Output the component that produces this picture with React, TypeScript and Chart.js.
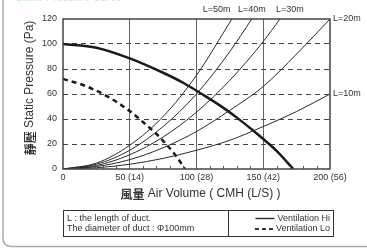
import { useEffect, useRef } from "react";
import { Chart, registerables } from "chart.js";
Chart.register(...registerables);

// ---- data ----
const xTickValues = [0, 50, 100, 150, 200];
const xTickLabels = ["0", "50 (14)", "100 (28)", "150 (42)", "200 (56)"];
const yTickValues = [0, 20, 40, 60, 80, 100, 120];

const hiX = [0, 25, 50, 75, 90, 104, 118, 131, 141, 150, 160, 172.5];
const hiY = [100, 97, 88.5, 77, 69, 60, 50.5, 40.5, 32, 24, 14.5, 0];

const loX = [0, 15, 32.5, 48.8, 60, 70, 77.5, 85, 91.3];
const loY = [72, 67.2, 58.5, 47.3, 37.5, 28, 19.6, 10, 0];

const duct10X = [0, 25, 50, 75, 100, 125, 150, 175, 200];
const duct10Y = [0, 1, 3.8, 8.5, 15, 23, 34, 46, 60];
const duct20X = [0, 25, 50, 75, 100, 125, 150, 175, 200];
const duct20Y = [0, 2, 7.5, 17, 30, 47, 66, 92, 120];
const duct30X = [0, 25, 50, 75, 100, 125, 150, 162.5];
const duct30Y = [0, 2.8, 11.4, 25.6, 45.5, 71, 102, 120];
const duct40X = [0, 25, 50, 75, 100, 125, 141.4];
const duct40Y = [0, 3.8, 15, 34, 60, 94, 120];
const duct50X = [0, 25, 50, 75, 100, 126.5];
const duct50Y = [0, 4.7, 19, 42, 75, 120];

// curve labels: text with anchor in data coordinates
const topLabels = ["L=50m", "L=40m", "L=30m"];
const topLabelX = [115, 141.5, 170];
const sideLabels = ["L=20m", "L=10m"];
const sideLabelY = [120, 60];

const yTitleCJK = "靜壓";
const yTitleLatin = " Static Pressure (Pa)";
const xTitleCJK = "風量";
const xTitleLatin = " Air Volume ( CMH (L/S) )";
const legendLeft = ["L : the length of duct.", "The diameter of duct : \u03A6100mm"];
const legendRight = ["Ventilation Hi", "Ventilation Lo"];

const zip = (xs: number[], ys: number[]) => xs.map((x, i) => ({ x, y: ys[i] }));

const FONT = "'Liberation Sans', Arial, sans-serif";
const CJK = "'Noto Sans CJK TC', 'Noto Sans CJK SC', sans-serif";

const drawMixed = (ctx: CanvasRenderingContext2D, cjk: string, latin: string, cx: number, cy: number) => {
  ctx.textBaseline = "middle";
  ctx.font = `bold 12px ${CJK}`;
  const w1 = ctx.measureText(cjk).width;
  ctx.font = `12px ${FONT}`;
  const w2 = ctx.measureText(latin).width;
  const sx = cx - (w1 + w2) / 2;
  ctx.textAlign = "left";
  ctx.font = `bold 12px ${CJK}`;
  ctx.fillText(cjk, sx, cy + 0.5);
  ctx.font = `12px ${FONT}`;
  ctx.fillText(latin, sx + w1, cy);
};

const customPlugin = {
  id: "customDecor",
  afterDraw(chart: any) {
    const { ctx, chartArea: a, scales } = chart;
    const xs = scales.x;
    const ys = scales.y;
    ctx.save();
    ctx.setLineDash([]);
    // plot frame
    ctx.strokeStyle = "#444";
    ctx.lineWidth = 1.5;
    ctx.strokeRect(a.left, a.top, a.right - a.left, a.bottom - a.top);
    // minor ticks on x axis
    ctx.lineWidth = 1;
    ctx.strokeStyle = "#555";
    for (let v = 10; v < 200; v += 10) {
      if (v % 50 === 0) continue;
      const px = Math.round(xs.getPixelForValue(v)) + 0.5;
      ctx.beginPath();
      ctx.moveTo(px, a.bottom);
      ctx.lineTo(px, a.bottom - 3);
      ctx.stroke();
    }
    // curve labels
    ctx.fillStyle = "#333";
    ctx.font = `9px ${FONT}`;
    ctx.textBaseline = "middle";
    ctx.textAlign = "center";
    topLabels.forEach((t, i) => ctx.fillText(t, xs.getPixelForValue(topLabelX[i]), a.top - 9));
    ctx.textAlign = "left";
    sideLabels.forEach((t, i) => ctx.fillText(t, a.right + 3, ys.getPixelForValue(sideLabelY[i])));
    // axis titles
    ctx.fillStyle = "#333";
    drawMixed(ctx, xTitleCJK, xTitleLatin, (a.left + a.right) / 2 + 4, 194);
    ctx.save();
    ctx.translate(30, (a.top + a.bottom) / 2 - 6);
    ctx.rotate(-Math.PI / 2);
    drawMixed(ctx, yTitleCJK, yTitleLatin, 0, 0);
    ctx.restore();
    // legend box
    const bl = 63.5, bt = 210.5, br = 333.5, bb = 236.5, div = 228.5;
    ctx.strokeStyle = "#333";
    ctx.lineWidth = 1;
    ctx.strokeRect(bl, bt, br - bl, bb - bt);
    ctx.beginPath();
    ctx.moveTo(div, bt);
    ctx.lineTo(div, bb);
    ctx.stroke();
    ctx.font = `9px ${FONT}`;
    ctx.fillStyle = "#333";
    ctx.textAlign = "left";
    ctx.fillText(legendLeft[0], 67, 218.5);
    ctx.fillText(legendLeft[1], 67, 229);
    ctx.textAlign = "right";
    ctx.fillText(legendRight[0], 330, 218.5);
    ctx.fillText(legendRight[1], 330, 229);
    const lw = ctx.measureText(legendRight[0]).width;
    const lw2 = ctx.measureText(legendRight[1]).width;
    ctx.lineWidth = 1.5;
    ctx.beginPath();
    ctx.moveTo(330 - lw - 22, 218.5);
    ctx.lineTo(330 - lw - 3, 218.5);
    ctx.stroke();
    ctx.lineWidth = 2;
    ctx.setLineDash([4, 3]);
    ctx.beginPath();
    ctx.moveTo(330 - lw2 - 21, 229);
    ctx.lineTo(330 - lw2 - 3, 229);
    ctx.stroke();
    ctx.setLineDash([]);
    // outer panel frame
    ctx.strokeStyle = "#aaa";
    ctx.lineWidth = 1.5;
    ctx.beginPath();
    ctx.moveTo(3, 0);
    ctx.lineTo(3, 238);
    ctx.quadraticCurveTo(3, 246.5, 12, 246.5);
    ctx.lineTo(367, 246.5);
    ctx.stroke();
    // clipped cyan heading (only its lower edge shows)
    ctx.fillStyle = "rgba(60,180,210,0.35)";
    ctx.font = `11px ${FONT}`;
    ctx.textAlign = "left";
    ctx.textBaseline = "alphabetic";
    ctx.fillText("Static Pressure Curve", 15, 1);
    ctx.restore();
  },
};

export default function App() {
  const ref = useRef<HTMLCanvasElement>(null);
  useEffect(() => {
    if (!ref.current) return;
    Chart.defaults.font.family = FONT;
    const thin = (xs: number[], ys: number[]) => ({
      data: zip(xs, ys),
      borderColor: "#2a2a2a",
      borderWidth: 1,
      pointRadius: 0,
      cubicInterpolationMode: "monotone" as const,
      fill: false,
    });
    const chart = new Chart(ref.current, {
      type: "line",
      data: {
        datasets: [
          thin(duct10X, duct10Y),
          thin(duct20X, duct20Y),
          thin(duct30X, duct30Y),
          thin(duct40X, duct40Y),
          thin(duct50X, duct50Y),
          {
            data: zip(loX, loY),
            borderColor: "#1a1a1a",
            borderWidth: 2.5,
            borderDash: [5, 4],
            pointRadius: 0,
            cubicInterpolationMode: "monotone",
            fill: false,
          },
          {
            data: zip(hiX, hiY),
            borderColor: "#1a1a1a",
            borderWidth: 2.5,
            pointRadius: 0,
            cubicInterpolationMode: "monotone",
            fill: false,
          },
        ],
      },
      options: {
        responsive: false,
        animation: false,
        devicePixelRatio: 1,
        layout: { padding: { left: 0, top: 19, right: 37, bottom: 0 } },
        plugins: { legend: { display: false }, tooltip: { enabled: false }, title: { display: false } },
        scales: {
          x: {
            type: "linear",
            min: 0,
            max: 200,
            afterBuildTicks: (s: any) => {
              s.ticks = xTickValues.map((v) => ({ value: v }));
            },
            afterFit: (s: any) => {
              s.height = 80;
            },
            ticks: {
              autoSkip: false,
              maxRotation: 0,
              padding: 3,
              color: "#333",
              font: { size: 9, family: FONT },
              callback: (v: any) => {
                const i = xTickValues.indexOf(Number(v));
                return i >= 0 ? xTickLabels[i] : "";
              },
            },
            grid: {
              drawTicks: false,
              lineWidth: 1,
              color: (c: any) => (c.tick && (c.tick.value === 0 || c.tick.value === 200) ? "rgba(0,0,0,0)" : "#666"),
            },
            border: { display: false },
          },
          y: {
            type: "linear",
            min: 0,
            max: 120,
            afterBuildTicks: (s: any) => {
              s.ticks = yTickValues.map((v) => ({ value: v }));
            },
            afterFit: (s: any) => {
              s.width = 63;
            },
            ticks: {
              padding: 6,
              color: "#333",
              font: { size: 9, family: FONT },
            },
            grid: {
              drawTicks: false,
              lineWidth: 1,
              color: (c: any) => (c.tick && (c.tick.value === 0 || c.tick.value === 120) ? "rgba(0,0,0,0)" : "#444"),
            },
            border: { display: false, dash: [5, 4] },
          },
        },
      },
      plugins: [customPlugin],
    });
    return () => chart.destroy();
  }, []);
  return (
    <div style={{ position: "absolute", left: 0, top: 0, width: 367, height: 249, background: "#fff" }}>
      <canvas ref={ref} width={367} height={249} style={{ display: "block" }} />
    </div>
  );
}
